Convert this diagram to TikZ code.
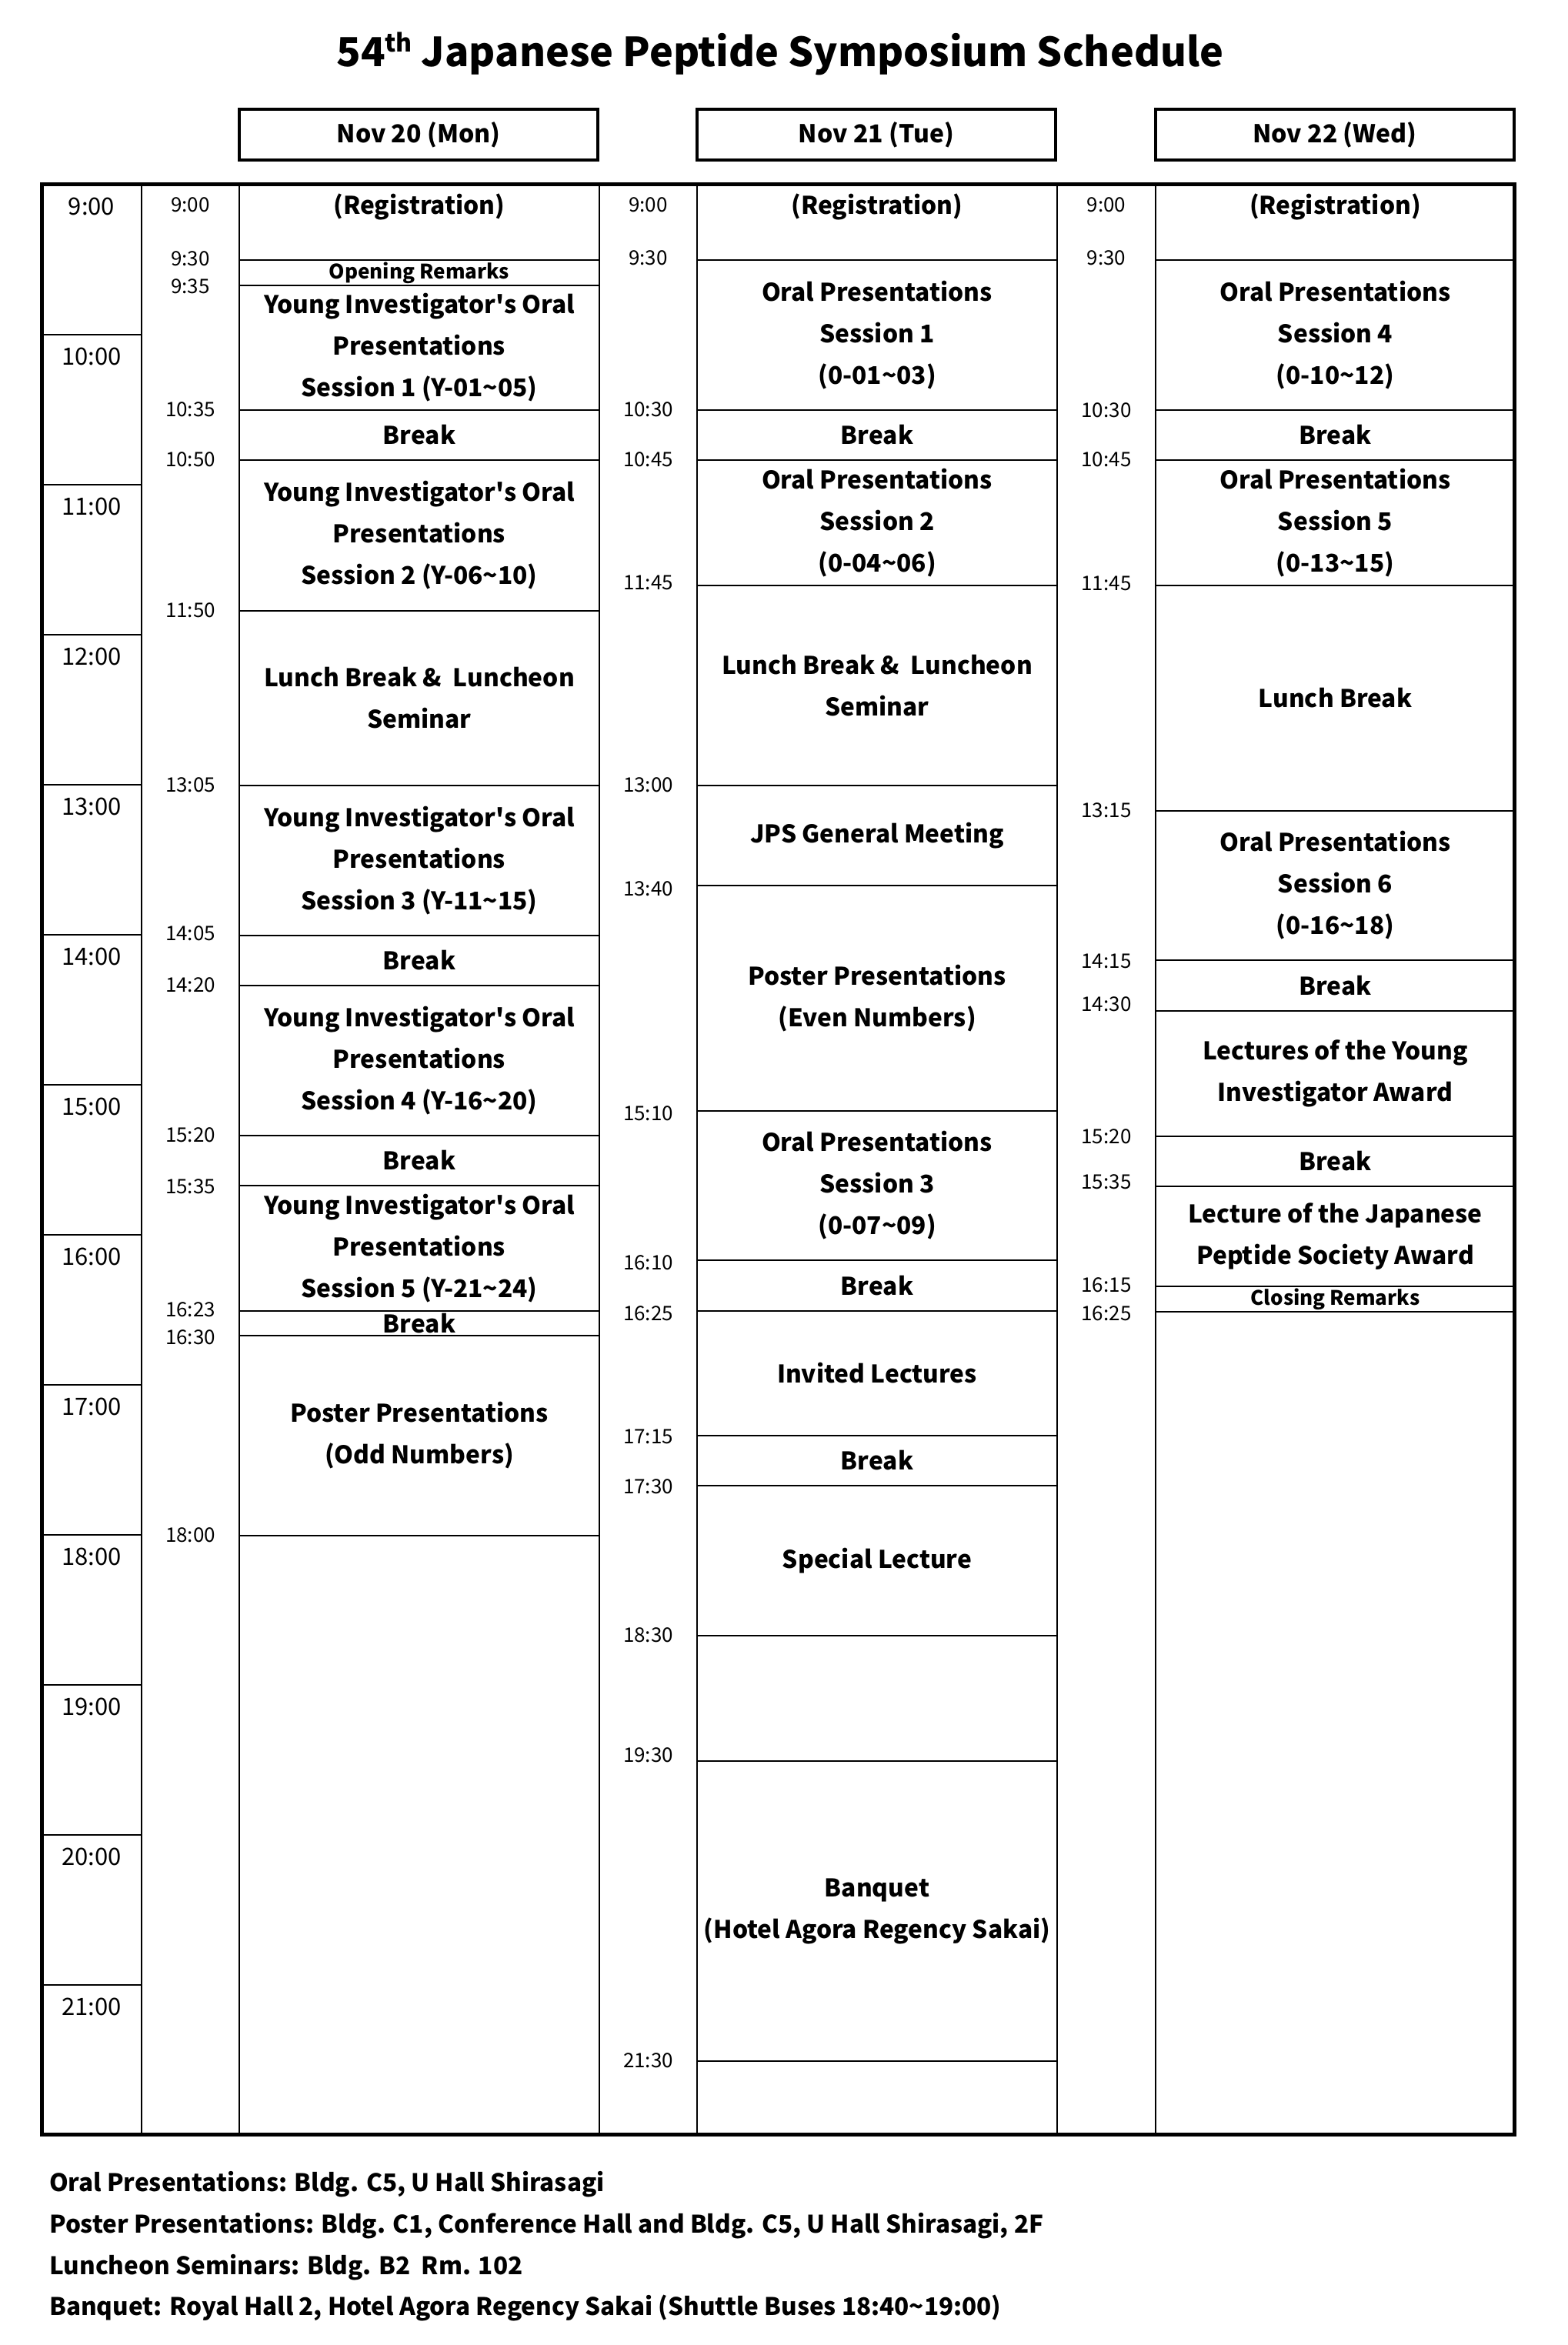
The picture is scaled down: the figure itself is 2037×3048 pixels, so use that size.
\documentclass[tikz,border=0pt]{standalone}
\usepackage{fontspec}
\setmainfont{Noto Sans CJK JP}
\newcommand\wave{\textasciitilde}
\newcommand\apos{\textquotesingle}
\newcommand\yio[1]{Young Investigator\apos s Oral\\Presentations\\#1}
\newcommand\opr[2]{Oral Presentations\\Session #1\\(0-#2)}
\begin{document}
\begin{tikzpicture}[x=1pt,y=-1pt,
  inner/.style={line width=2.5pt},
  outer/.style={line width=5pt},
  hdr/.style={line width=4pt},
  evt/.style={font=\fontsize{31.7}{54}\selectfont\bfseries, align=center, inner sep=0pt},
  smallevt/.style={font=\fontsize{26}{30}\selectfont\bfseries, align=center, inner sep=0pt},
  tm/.style={font=\fontsize{26}{30}\selectfont, inner sep=0pt},
  hr/.style={font=\fontsize{31}{36}\selectfont, inner sep=0pt},
  foot/.style={font=\fontsize{31.5}{36}\selectfont\bfseries, inner sep=0pt, anchor=base west}]
\fill[white] (0,0) rectangle (2037,3048);
\useasboundingbox (0,0) rectangle (2037,3048);

% event macro: name, x1, x2, y1, y2, style, text
\newcommand\ev[7]{%
  \draw[inner] (#2,#4) rectangle (#3,#5);
  \node[#6] (#1) at ({(#2+#3)/2},{(#4+#5)/2}) {#7};}

% title
\node[font=\fontsize{52}{56}\selectfont\bfseries, anchor=base, inner sep=0pt] (title) at (1014,87)
  {54\raisebox{19pt}{\fontsize{32}{32}\selectfont th} Japanese Peptide Symposium Schedule};

% day headers
\draw[hdr] (311,142) rectangle (777,208);
\node[font=\fontsize{32}{36}\selectfont\bfseries, inner sep=0pt] (dmon) at (544,175) {Nov 20 (Mon)};
\draw[hdr] (906,142) rectangle (1372,208);
\node[font=\fontsize{32}{36}\selectfont\bfseries, inner sep=0pt] (dtue) at (1139,175) {Nov 21 (Tue)};
\draw[hdr] (1502,142) rectangle (1968,208);
\node[font=\fontsize{32}{36}\selectfont\bfseries, inner sep=0pt] (dwed) at (1735,175) {Nov 22 (Wed)};

% vertical inner lines
\foreach \x in {184,311,779,906,1374,1502} \draw[inner] (\x,240) -- (\x,2775);

% hour rows
\foreach \k/\h in {0/9,1/10,2/11,3/12,4/13,5/14,6/15,7/16,8/17,9/18,10/19,11/20,12/21} {
  \draw[inner] (54,{240+195*\k}) -- (184,{240+195*\k});
  \node[hr] (h\h) at (119,{240+195*\k+28.5}) {\h:00};
}

% Monday events
\draw[inner] (311,240) rectangle (779,338);
\node[evt] (mreg) at (545,269) {(Registration)};
\ev{mopen}{311}{779}{338}{371}{smallevt}{Opening Remarks}
\ev{my1}{311}{779}{371}{533}{evt}{\yio{Session 1 (Y-01\wave05)}}
\ev{mb1}{311}{779}{533}{598}{evt}{Break}
\ev{my2}{311}{779}{598}{794}{evt}{\yio{Session 2 (Y-06\wave10)}}
\ev{mlunch}{311}{779}{794}{1021}{evt}{Lunch Break \& \ Luncheon\\Seminar}
\ev{my3}{311}{779}{1021}{1216}{evt}{\yio{Session 3 (Y-11\wave15)}}
\ev{mb2}{311}{779}{1216}{1281}{evt}{Break}
\ev{my4}{311}{779}{1281}{1476}{evt}{\yio{Session 4 (Y-16\wave20)}}
\ev{mb3}{311}{779}{1476}{1541}{evt}{Break}
\ev{my5}{311}{779}{1541}{1704}{evt}{\yio{Session 5 (Y-21\wave24)}}
\ev{mb4}{311}{779}{1704}{1736}{evt}{Break}
\ev{mposter}{311}{779}{1736}{1996}{evt}{Poster Presentations\\(Odd Numbers)}

% Tuesday events
\draw[inner] (906,240) rectangle (1374,338);
\node[evt] (treg) at (1140,269) {(Registration)};
\ev{to1}{906}{1374}{338}{533}{evt}{\opr{1}{01\wave03}}
\ev{tb1}{906}{1374}{533}{598}{evt}{Break}
\ev{to2}{906}{1374}{598}{761}{evt}{\opr{2}{04\wave06}}
\ev{tlunch}{906}{1374}{761}{1021}{evt}{Lunch Break \& \ Luncheon\\Seminar}
\ev{tjps}{906}{1374}{1021}{1151}{evt}{JPS General Meeting}
\ev{tposter}{906}{1374}{1151}{1444}{evt}{Poster Presentations\\(Even Numbers)}
\ev{to3}{906}{1374}{1444}{1638}{evt}{\opr{3}{07\wave09}}
\ev{tb2}{906}{1374}{1638}{1704}{evt}{Break}
\ev{tinv}{906}{1374}{1704}{1866}{evt}{Invited Lectures}
\ev{tb3}{906}{1374}{1866}{1931}{evt}{Break}
\ev{tspec}{906}{1374}{1931}{2126}{evt}{Special Lecture}
\ev{tbanq}{906}{1374}{2289}{2679}{evt}{Banquet\\(Hotel Agora Regency Sakai)}

% Wednesday events
\draw[inner] (1502,240) rectangle (1969,338);
\node[evt] (wreg) at (1735.5,269) {(Registration)};
\ev{wo4}{1502}{1969}{338}{533}{evt}{\opr{4}{10\wave12}}
\ev{wb1}{1502}{1969}{533}{598}{evt}{Break}
\ev{wo5}{1502}{1969}{598}{761}{evt}{\opr{5}{13\wave15}}
\ev{wlunch}{1502}{1969}{761}{1054}{evt}{Lunch Break}
\ev{wo6}{1502}{1969}{1054}{1248}{evt}{\opr{6}{16\wave18}}
\ev{wb2}{1502}{1969}{1248}{1314}{evt}{Break}
\ev{wlyia}{1502}{1969}{1314}{1477}{evt}{Lectures of the Young\\Investigator Award}
\ev{wb3}{1502}{1969}{1477}{1542}{evt}{Break}
\ev{wljps}{1502}{1969}{1542}{1672}{evt}{Lecture of the Japanese\\Peptide Society Award}
\ev{wclose}{1502}{1969}{1672}{1705}{smallevt}{Closing Remarks}

% time labels
\foreach \t/\y [count=\i] in {9:00/266,9:30/336,9:35/372,10:35/532,10:50/597,11:50/793,13:05/1020,14:05/1213,14:20/1280,15:20/1475,15:35/1542,16:23/1702,16:30/1738,18:00/1995}
  \node[tm] (mt\i) at (247.5,\y) {\t};
\foreach \t/\y [count=\i] in {9:00/266,9:30/335,10:30/532,10:45/597,11:45/757,13:00/1020,13:40/1155,15:10/1447,16:10/1641,16:25/1707,17:15/1867,17:30/1932,18:30/2125,19:30/2281,21:30/2678}
  \node[tm] (tt\i) at (842.5,\y) {\t};
\foreach \t/\y [count=\i] in {9:00/266,9:30/335,10:30/533,10:45/597,11:45/758,13:15/1053,14:15/1249,14:30/1305,15:20/1477,15:35/1536,16:15/1670,16:25/1707}
  \node[tm] (wt\i) at (1438,\y) {\t};

% outer frame
\draw[outer] (54.5,239.5) rectangle (1968.5,2774.5);

% footer
\node[foot] (f1) at (64,2848) {Oral Presentations: Bldg. C5, U Hall Shirasagi};
\node[foot] (f2) at (64,2902) {Poster Presentations: Bldg. C1, Conference Hall and Bldg. C5, U Hall Shirasagi, 2F};
\node[foot] (f3) at (64,2956) {Luncheon Seminars: Bldg. B2 \ Rm. 102};
\node[foot] (f4) at (64,3009) {Banquet: Royal Hall 2, Hotel Agora Regency Sakai (Shuttle Buses 18:40\wave19:00)};
\end{tikzpicture}
\end{document}
